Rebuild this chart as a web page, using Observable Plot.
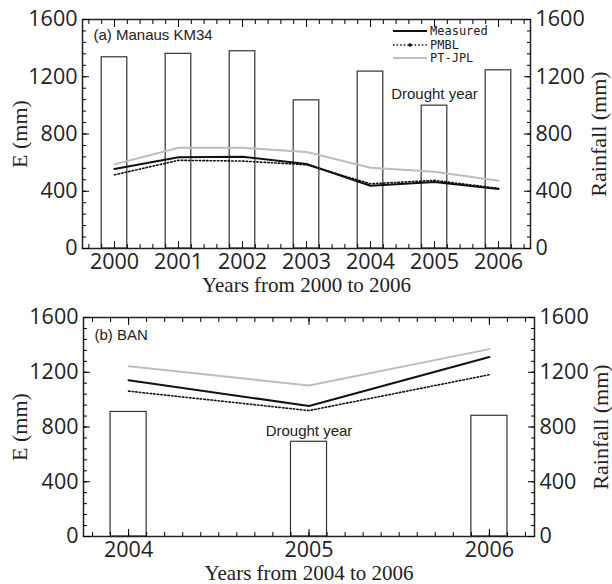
<!DOCTYPE html>
<html><head><meta charset="utf-8">
<script src="https://cdn.jsdelivr.net/npm/d3@7"></script>
<script src="https://cdn.jsdelivr.net/npm/@observablehq/plot@0.6"></script>
<style>
html,body{margin:0;padding:0;background:#fff;}
#wrap{position:relative;width:612px;height:584px;overflow:hidden;}
#wrap svg{display:block;}
.legend{position:absolute;left:393px;top:0;font-family:"DejaVu Sans Mono",monospace;font-size:12px;color:#222;}
.legend .row{position:absolute;left:0;height:14px;display:flex;align-items:center;white-space:nowrap;}
.legend .row svg{margin-right:3px;}
</style></head><body><div id="wrap"></div>
<script>
// ---- data ----
const years1 = [2000, 2001, 2002, 2003, 2004, 2005, 2006];
const rain1 = [1336, 1360, 1378, 1035, 1236, 998, 1245];
const measured1 = [555, 637, 641, 590, 438, 464, 415];
const pmbl1 = [515, 616, 611, 585, 452, 476, 420];
const ptjpl1 = [588, 704, 704, 674, 564, 536, 473];

const years2 = [2004, 2005, 2006];
const rain2 = [910, 692, 882];
const measured2 = [1141, 954, 1311];
const pmbl2 = [1062, 920, 1182];
const ptjpl2 = [1244, 1103, 1369];

const seriesNames = ["Measured", "PMBL", "PT-JPL"];
const droughtYear = 2005;
const droughtText = "Drought year";
const yTicks = [0, 400, 800, 1200, 1600];
const panelTitles = ["(a) Manaus KM34", "(b) BAN"];
const xTitles = ["Years from 2000 to 2006", "Years from 2004 to 2006"];
const yTitle = "E (mm)";
const y2Title = "Rainfall (mm)";

// ---- styles ----
const styles = {
  "Measured": {stroke: "#111", strokeWidth: 2},
  "PMBL": {stroke: "#111", strokeWidth: 1.6, strokeDasharray: "1.5 2.1"},
  "PT-JPL": {stroke: "#bdbdbd", strokeWidth: 2}
};
const tickFont = "Open Sans";
const serif = "Liberation Serif";
const sans = "Liberation Sans";

function panel(cfg) {
  const rows = cfg.years.map((year, i) => ({year, rain: cfg.rain[i]}));
  const lineData = name => cfg.years.map((year, i) => ({year, value: cfg.series[name][i]}));
  const yMinor = d3.range(0, 1601, 80);
  const xMinor = d3.range(cfg.minorFrom, cfg.xDomain[1], cfg.minorStep).map(v => +v.toFixed(2));
  const marks = [
    Plot.rectY(rows, {x1: d => d.year - cfg.barHalf, x2: d => d.year + cfg.barHalf, y: "rain",
      fill: "white", stroke: "#333", strokeWidth: 1.2}),
    ...["PT-JPL", "PMBL", "Measured"].map(name => Plot.line(lineData(name), {x: "year", y: "value", ...styles[name]})),
    Plot.text(rows.filter(d => d.year === droughtYear), {x: "year", y: "rain", text: () => droughtText,
      dy: -11, fontFamily: sans, fontSize: 15, fill: "#222"}),
    Plot.text([cfg.title], {text: d => d, frameAnchor: "top-left", textAnchor: "start", lineAnchor: "top",
      dx: 11, dy: cfg.titleDy, fontFamily: sans, fontSize: 15, fill: "#222"}),
    Plot.frame({stroke: "#222", strokeWidth: 1.5}),
    // inward minor / major ticks
    Plot.axisX(xMinor, {anchor: "bottom", tickSize: -4, tickFormat: () => "", label: null}),
    Plot.axisX(xMinor, {anchor: "top", tickSize: -4, tickFormat: () => "", label: null}),
    Plot.axisX(cfg.years, {anchor: "bottom", tickSize: -7, tickFormat: () => "", label: null}),
    Plot.axisX(cfg.years, {anchor: "top", tickSize: -7, tickFormat: () => "", label: null}),
    Plot.axisY(yMinor, {anchor: "left", tickSize: -4, tickFormat: () => "", label: null}),
    Plot.axisY(yMinor, {anchor: "right", tickSize: -4, tickFormat: () => "", label: null}),
    Plot.axisY(yTicks, {anchor: "left", tickSize: -7, tickFormat: () => "", label: null}),
    Plot.axisY(yTicks, {anchor: "right", tickSize: -7, tickFormat: () => "", label: null}),
    // tick labels
    Plot.axisX(cfg.years, {anchor: "bottom", tickSize: 0, tickPadding: cfg.xPad, tickFormat: "d", label: null,
      fontFamily: tickFont, fontSize: 21.5, fill: "#222"}),
    Plot.axisY(yTicks, {anchor: "left", tickSize: 0, tickPadding: 5, tickFormat: "d", label: null,
      fontFamily: tickFont, fontSize: 21.5, fill: "#222"}),
    Plot.axisY(yTicks, {anchor: "right", tickSize: 0, tickPadding: 5, tickFormat: "d", label: null,
      fontFamily: tickFont, fontSize: 21.5, fill: "#222"}),
    // axis titles
    Plot.text([cfg.xTitle], {text: d => d, frameAnchor: "bottom", textAnchor: "middle", lineAnchor: "middle",
      dy: cfg.xTitleDy, fontFamily: serif, fontSize: 21, fill: "#222"}),
    Plot.text([yTitle], {text: d => d, frameAnchor: "left", textAnchor: "middle", lineAnchor: "middle",
      rotate: -90, dx: cfg.yTitleDx, fontFamily: serif, fontSize: 22, fill: "#222"}),
    Plot.text([y2Title], {text: d => d, frameAnchor: "right", textAnchor: "middle", lineAnchor: "middle",
      rotate: -90, dx: cfg.y2TitleDx, fontFamily: serif, fontSize: 22, fill: "#222"})
  ];
  return Plot.plot({
    width: 612, height: cfg.height,
    marginTop: cfg.mt, marginBottom: cfg.mb, marginLeft: cfg.ml, marginRight: cfg.mr,
    x: {domain: cfg.xDomain},
    y: {domain: [0, 1600]},
    style: {background: "white", overflow: "visible"},
    marks
  });
}

const wrap = document.getElementById("wrap");
wrap.appendChild(panel({
  years: years1, rain: rain1,
  series: {"Measured": measured1, "PMBL": pmbl1, "PT-JPL": ptjpl1},
  title: panelTitles[0], xTitle: xTitles[0],
  height: 300, mt: 19, mb: 52, ml: 82, mr: 82,
  xDomain: [1999.5, 2006.5], barHalf: 0.2, minorFrom: 1999.6, minorStep: 0.2,
  titleDy: 10, xPad: 5, xTitleDy: 37, yTitleDx: -63, y2TitleDx: 68
}));
wrap.appendChild(panel({
  years: years2, rain: rain2,
  series: {"Measured": measured2, "PMBL": pmbl2, "PT-JPL": ptjpl2},
  title: panelTitles[1], xTitle: xTitles[1],
  height: 284, mt: 17, mb: 48, ml: 83, mr: 78,
  xDomain: [2003.75, 2006.25], barHalf: 0.1, minorFrom: 2003.8, minorStep: 0.1,
  titleDy: 12, xPad: 5, xTitleDy: 37, yTitleDx: -64, y2TitleDx: 66
}));

// legend (top panel, upper right)
const legend = document.createElement("div");
legend.className = "legend";
seriesNames.forEach((name, i) => {
  const row = document.createElement("div");
  row.className = "row";
  row.style.top = (24 + i * 13.5) + "px";
  const st = styles[name];
  const svg = d3.create("svg").attr("width", 34).attr("height", 14);
  svg.append("line").attr("x1", 0).attr("x2", 34).attr("y1", 7).attr("y2", 7)
    .attr("stroke", st.stroke).attr("stroke-width", st.strokeWidth)
    .attr("stroke-dasharray", st.strokeDasharray || null);
  if (name === "PMBL") svg.append("circle").attr("cx", 17).attr("cy", 7).attr("r", 1.8).attr("fill", "#111");
  row.appendChild(svg.node());
  const span = document.createElement("span");
  span.textContent = name;
  row.appendChild(span);
  legend.appendChild(row);
});
wrap.appendChild(legend);
</script></body></html>
